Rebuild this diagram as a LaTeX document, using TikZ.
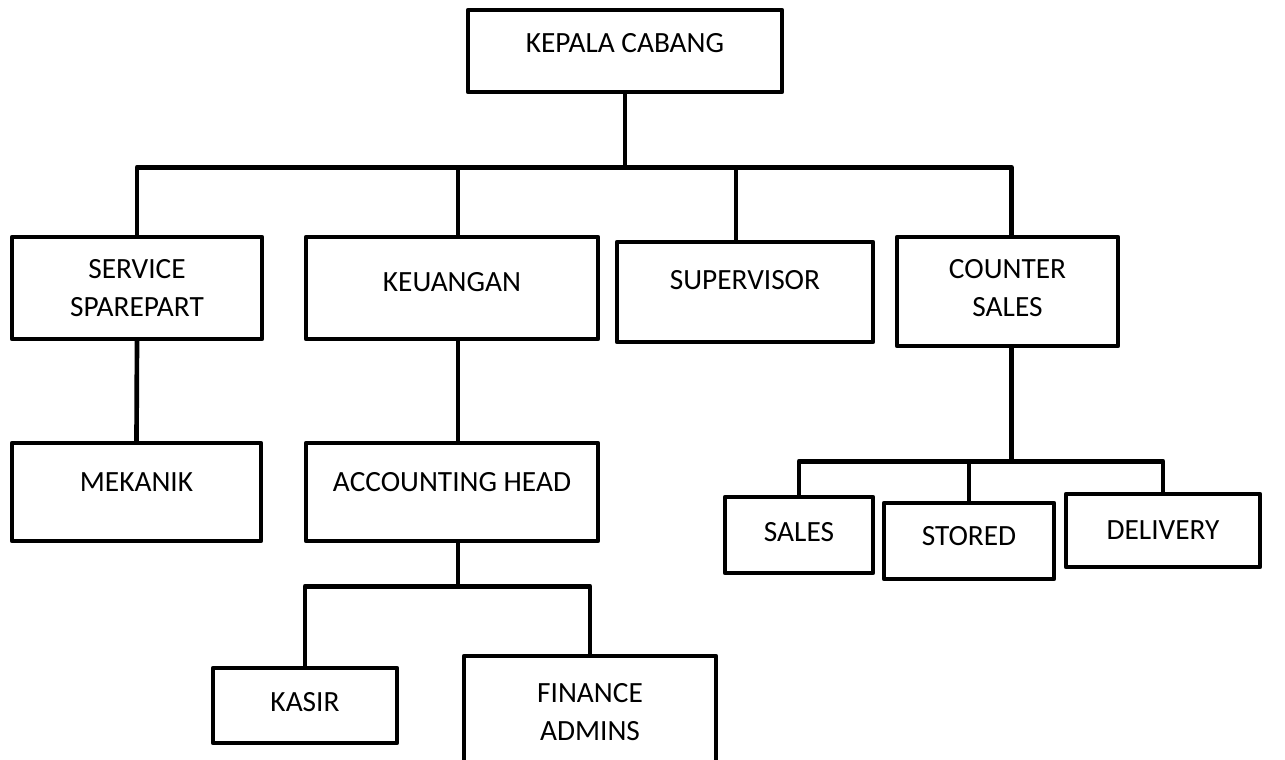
\documentclass[tikz,border=0pt]{standalone}
\usepackage{fontspec}
\setmainfont{Carlito}
\usetikzlibrary{positioning, calc}
\tikzset{
  unit/.style={rectangle, draw=black, line width=3.3pt, line join=round, inner sep=0pt, align=center, font=\fontsize{22}{28.5}\selectfont},
  lift/.style={text depth=#1},
  link/.style={line width=3.5pt, line join=round}
}

\begin{document}
\begin{tikzpicture}[x=0.75pt, y=-0.75pt]
        \clip (0,0) rectangle (1285,760);

        % --- Pimpinan ---
        \node (kepala) [unit, lift=12pt, minimum width=235.5pt, minimum height=61.5pt] at (625,51) {KEPALA CABANG};

        % --- Baris kedua ---
        \node (service) [unit, minimum width=187.5pt, minimum height=76.5pt] at (137,288) {SERVICE\\ SPAREPART};
        \node (keuangan) [unit, lift=9pt, minimum width=219pt, minimum height=76.5pt] at (452,288) {KEUANGAN};
        \node (supervisor) [unit, lift=18pt, minimum width=192pt, minimum height=75pt] at (745,292) {SUPERVISOR};
        \node (counter) [unit, lift=5pt, minimum width=165.75pt, minimum height=81.75pt] at (1007.5,291.5) {COUNTER\\ SALES};

        % --- Baris ketiga ---
        \node (mekanik) [unit, lift=15pt, minimum width=186.75pt, minimum height=73.5pt] at (136.5,492) {MEKANIK};
        \node (accounting) [unit, lift=15pt, minimum width=219pt, minimum height=73.5pt] at (452,492) {ACCOUNTING HEAD};
        \node (sales) [unit, lift=4.5pt, minimum width=111pt, minimum height=57pt] at (799,535) {SALES};
        \node (stored) [unit, lift=7.5pt, minimum width=127.5pt, minimum height=57pt] at (969,541) {STORED};
        \node (delivery) [unit, minimum width=145.5pt, minimum height=54.75pt] at (1163,530.5) {DELIVERY};

        % --- Baris keempat ---
        \node (kasir) [unit, lift=6pt, minimum width=138pt, minimum height=56.25pt] at (305,705.5) {KASIR};
        \node (finance) [unit, minimum width=189pt, minimum height=84pt] at (590,712) {FINANCE\\ ADMINS};

        % --- Garis dari kepala cabang ---
        \draw [link] (kepala.south) -- ++(0,73) coordinate (cabang);
        \draw [link] (service.north) |- (cabang) -| ([xshift=3pt]counter.north);
        \draw [link] ([xshift=4.5pt]keuangan.north) -- ([xshift=4.5pt]keuangan.north |- cabang);
        \draw [link] ([xshift=-6.75pt]supervisor.north) -- ([xshift=-6.75pt]supervisor.north |- cabang);

        % --- Garis ke bawahan langsung ---
        \draw [link] (service.south) -- (mekanik.north);
        \draw [link] ([xshift=4.5pt]keuangan.south) -- ([xshift=4.5pt]accounting.north);

        % --- Cabang accounting ---
        \draw [link] ([xshift=4.5pt]accounting.south) -- ++(0,43) coordinate (akun);
        \draw [link] (kasir.north) |- (akun) -| (finance.north);

        % --- Cabang counter sales ---
        \draw [link] ([xshift=3pt]counter.south) -- ++(0,113) coordinate (loket);
        \draw [link] (sales.north) |- (loket) -| (delivery.north);
        \draw [link] (stored.north) -- (stored.north |- loket);

    \end{tikzpicture}
\end{document}
